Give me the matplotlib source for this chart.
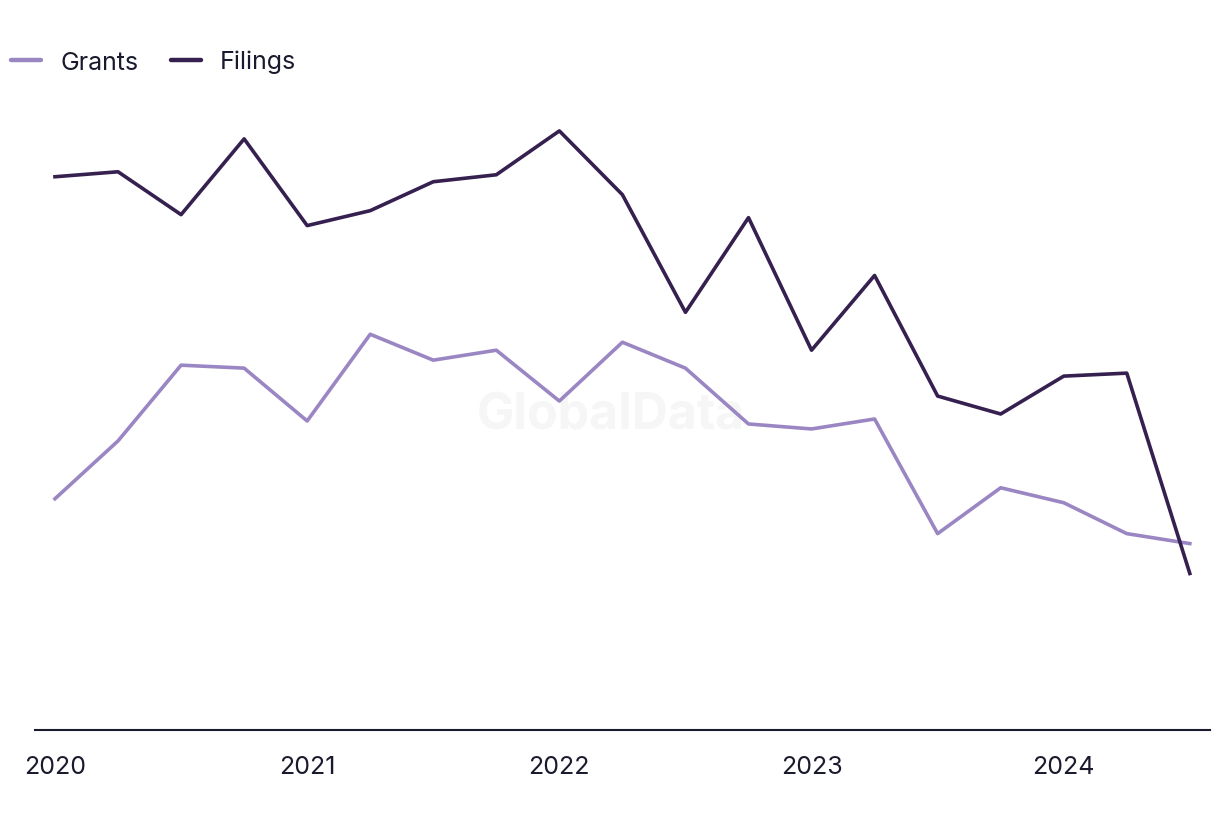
import numpy as np
import matplotlib.pyplot as plt

plt.rcParams['font.family'] = ['Inter', 'DejaVu Sans']

# quarterly values, 2020 Q1 .. 2024 Q3 (relative units, no y axis shown)
quarters = np.arange(19)
filings = [555, 560, 517, 593, 506, 521, 550, 557, 601, 537, 419, 514, 381, 456, 335, 317, 355, 358, 157]
grants = [232, 290, 366, 363, 310, 397, 371, 381, 330, 389, 363, 307, 302, 312, 197, 243, 228, 197, 187]
year_ticks = [0, 4, 8, 12, 16]
year_labels = ["2020", "2021", "2022", "2023", "2024"]

fig = plt.figure(figsize=(12.2, 8.2), dpi=100)
ax = fig.add_axes([35 / 1220, 89 / 820, 1175 / 1220, 630 / 820])

# faint watermark
ax.text(0.49, 0.5, "GlobalData", transform=ax.transAxes, ha="center", va="center",
        fontsize=36, fontweight="bold", color="#f6f6f6", zorder=0)

ax.plot(quarters, grants, color="#9b86c4", lw=2.6, label="Grants", zorder=2)
ax.plot(quarters, filings, color="#35204f", lw=2.6, label="Filings", zorder=3)

ax.set_xlim(-0.317, 18.32)
ax.set_ylim(0, 632)
ax.set_xticks(year_ticks)
ax.set_xticklabels(year_labels, fontsize=18, color="#1a1a2e")
ax.tick_params(axis="x", length=0, pad=18)
ax.set_yticks([])
for side in ["top", "right", "left"]:
    ax.spines[side].set_visible(False)
ax.spines["bottom"].set_color("#1a1a2e")
ax.spines["bottom"].set_linewidth(1.5)

leg = fig.legend(loc="upper left", bbox_to_anchor=(0.0005, 0.95), ncol=2, frameon=False,
                 fontsize=18, handlelength=1.23, handletextpad=0.75, columnspacing=1.3,
                 borderaxespad=0)
for t in leg.get_texts():
    t.set_color("#1a1a2e")
for l in leg.get_lines():
    l.set_linewidth(3.2)
    l.set_solid_capstyle("round")

fig.savefig("out.png", dpi=100)
